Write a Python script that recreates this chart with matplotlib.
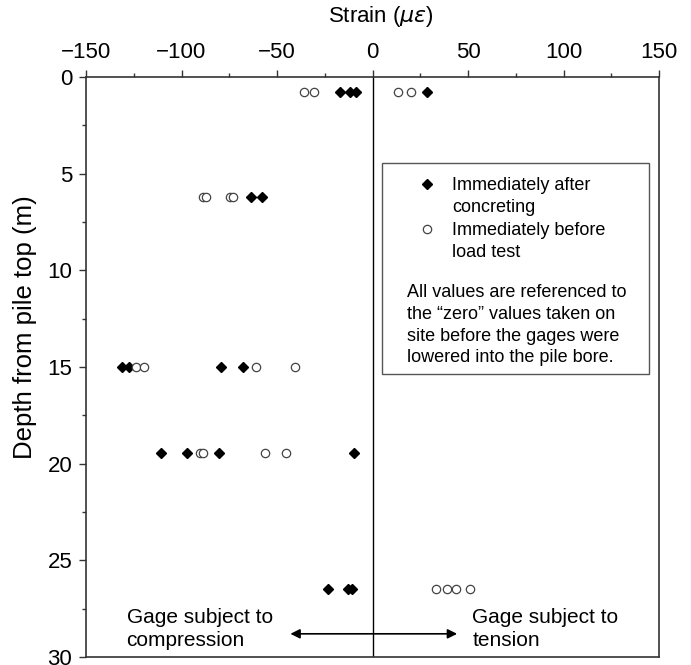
import matplotlib
matplotlib.use("Agg")
import matplotlib.pyplot as plt
from matplotlib.lines import Line2D
from matplotlib.patches import Rectangle
from matplotlib.ticker import MultipleLocator

plt.rcParams['font.family'] = ['Liberation Sans', 'DejaVu Sans']
plt.rcParams['mathtext.fontset'] = 'dejavusans'

# Strain readings (micro-strain) at each gage level, depth in metres
after_depth = [0.8, 0.8, 0.8, 0.8,
               6.2, 6.2,
               15.0, 15.0, 15.0, 15.0,
               19.45, 19.45, 19.45, 19.45,
               26.5, 26.5, 26.5]
after_strain = [-17.0, -12.0, -8.5, 28.5,
                -63.5, -58.0,
                -131.0, -127.5, -79.5, -68.0,
                -111.0, -97.0, -80.5, -9.5,
                -23.5, -13.0, -10.5]

before_depth = [0.8, 0.8, 0.8, 0.8,
                6.2, 6.2, 6.2, 6.2,
                15.0, 15.0, 15.0, 15.0,
                19.45, 19.45, 19.45, 19.45,
                26.5, 26.5, 26.5, 26.5]
before_strain = [-36.0, -30.5, 13.5, 20.0,
                 -89.0, -87.0, -74.5, -73.0,
                 -124.0, -119.5, -61.0, -40.5,
                 -90.5, -88.5, -56.5, -45.5,
                 33.0, 39.0, 43.5, 51.0]

x_ticks = [-150, -100, -50, 0, 50, 100, 150]
y_ticks = [0, 5, 10, 15, 20, 25, 30]

series_labels = ["Immediately after", "concreting", "Immediately before", "load test"]
note_text = ("All values are referenced to\n"
             "the \u201czero\u201d values taken on\n"
             "site before the gages were\n"
             "lowered into the pile bore.")

fig = plt.figure(figsize=(6.91, 6.65), dpi=100)
ax = fig.add_axes([0.1245, 0.012, 0.8292, 0.8722])

ax.set_xlim(-150, 150)
ax.set_ylim(30, 0)
ax.xaxis.tick_top()
ax.set_xticks(x_ticks)
ax.set_yticks(y_ticks)
ax.xaxis.set_minor_locator(MultipleLocator(25))
ax.yaxis.set_minor_locator(MultipleLocator(2.5))
ax.tick_params(which='both', direction='out', top=True, bottom=False,
               left=True, right=False, color='#333333')
ax.tick_params(which='major', length=5, width=1.0, labelsize=16, pad=5)
ax.tick_params(which='minor', length=3, width=1.0)
for sp in ax.spines.values():
    sp.set_color('#333333')
    sp.set_linewidth(1.2)

ax.axvline(0, color='black', lw=1.0, zorder=1)

ax.plot(after_strain, after_depth, linestyle='none', marker='D', ms=5.2,
        color='black', mec='black', zorder=3)
ax.plot(before_strain, before_depth, linestyle='none', marker='o', ms=6,
        mfc='white', mec='#444444', mew=0.9, zorder=3)

# Axis labels
ax.set_xlabel('Strain ($\\mu\\varepsilon$)', fontsize=16)
ax.xaxis.set_label_position('top')
ax.xaxis.label.set_va('center')
ax.xaxis.set_label_coords(0.5148, 1.104)
ax.set_ylabel('Depth from pile top (m)', fontsize=18.5)
ax.yaxis.label.set_va('center')
ax.yaxis.set_label_coords(-0.106, 0.569)

# Key and note box
ax.add_patch(Rectangle((0.516, 0.4879), 0.467, 0.3633, transform=ax.transAxes,
                       fill=True, fc='white', ec='#555555', lw=1.0, zorder=2))
blank = Line2D([], [], linestyle='none')
h_after = Line2D([], [], linestyle='none', marker='D', ms=5.2, color='black')
h_before = Line2D([], [], linestyle='none', marker='o', ms=6,
                  mfc='white', mec='#444444', mew=0.9)
ax.legend([h_after, blank, h_before, blank], series_labels,
          loc='upper left', bbox_to_anchor=(0.5794, 0.8275), frameon=False,
          fontsize=13, handlelength=1.0, handletextpad=0.87, labelspacing=0.3,
          borderpad=0, borderaxespad=0)
ax.text(0.5597, 0.6425, note_text, transform=ax.transAxes, ha='left', va='top',
        fontsize=13, linespacing=1.36, zorder=4)

# Compression / tension annotation
ax.annotate('', xy=(-43, 28.8), xytext=(44.3, 28.8),
            arrowprops=dict(arrowstyle='<|-|>', color='black', lw=1.2,
                            mutation_scale=14, shrinkA=0, shrinkB=0))
ax.text(-128.8, 28.54, 'Gage subject to\ncompression', ha='left', va='center',
        fontsize=15, linespacing=1.3)
ax.text(52.2, 28.54, 'Gage subject to\ntension', ha='left', va='center',
        fontsize=15, linespacing=1.3)

fig.savefig('out.png', dpi=100)
